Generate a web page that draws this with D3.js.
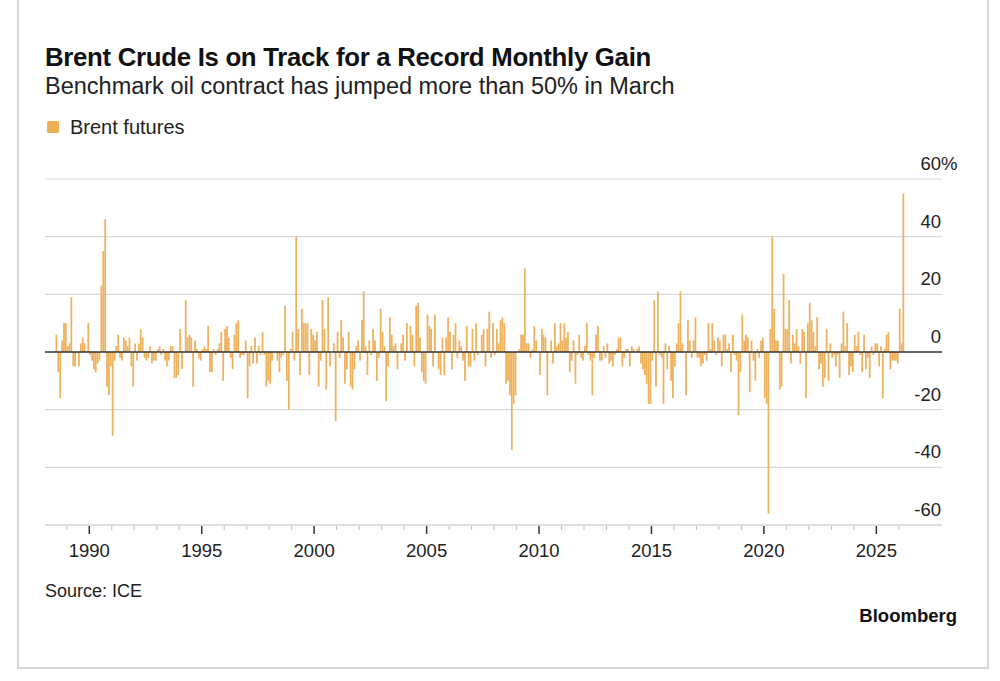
<!DOCTYPE html>
<html><head><meta charset="utf-8">
<script src="https://cdn.jsdelivr.net/npm/d3@7"></script>
<style>body{margin:0;background:#fff}svg{font-family:"Liberation Sans",Arial,sans-serif}</style>
</head><body>
<svg id="c" width="1000" height="681"></svg>
<script>
// Monthly % change of Brent futures, in four runs
const seg1Start = [1988, 6]; // Jul 1988
const seg1 = [6,-7,-16,4,10,10,
 2,3,19,-5,-5,0,-5,3,5,3,0,10,
 -1,-3,-6,-7,-4,-3,23,35,46,-12,-15,-5,
 -29,-3,2,6,-2,-3,5,4,2,5,-5,-12,
 3,-3,3,8,5,-2,-3,-2,2,-4,-3,-3,
 1,2,-1,1,-3,-5,-3,2,2,-9,-9,-8,
 8,-6,0,18,5,6,5,-12,4,1,-2,-3,
 1,2,1,9,-7,-7,1,-1,1,3,7,-10,
 8,9,5,-2,-6,6,10,11,-2,-1,-1,4,
 -16,-5,2,-4,5,-4,2,-1,7,-1,-12,-10,
 -11,-3,0,0,-3,-7];
const seg2Start = [1998, 6]; // Jul 1998
const seg2 = [-2,-1,16,-10,-20,1,
 7,-3,40,8,-8,15,10,10,10,-8,8,6,
 4,7,-12,-3,18,8,-13,19,-5,0,3,-24,
 7,-2,11,5,-11,-6,7,-12,-13,-6,2,4,
 -3,11,21,2,-8,4,-1,8,4,-10,-2,15,
 7,2,-17,-5,12,6,2,3,-6,0,3,6,
 -3,10,0,9,6,-5,16,17,5,-7,-10,-11,
 13,9,8,-5,13,0,-6,-8,5,-8,5,12,
 7,-6,6,10,-2,4,2,-3,-10,9,-5,-5,
 8,-3,10,-1,0,6,8,-5,8,14,-2,10,
 -1,8,3,11,12,10,-11,-10,-15];
const seg3Start = [2008, 9]; // Oct 2008
const seg3 = [-34,-18,-15,
 0,1,6,6,29,3,3,-2,1,9,4,0,
 -8,8,6,5,-15,0,4,-4,10,2,3,10,
 4,10,5,7,-7,-3,4,-11,-1,6,-2,-3,
 2,10,-1,-3,-15,-2,6,9,-3,-3,2,-2,
 3,-4,-3,-5,-1,1,5,5,-5,-2,1,1,
 -5,2,1,0,1,2,-4,-6,-8,-11,-18,-18,
 -3,18,-12,21,-1,-2,-18,3,-6,2,-10,-16,
 -5,3,10,21,3,0,-15,11,4,-2,4,12,
 -2,-2,-5,-4,-1,-3,10,1,10,4,-1,5,
 4,-5,6,6,1,3,-7,6,-1,-3,-22,-7];
const seg4Start = [2019, 0]; // Jan 2019
const seg4 = [13,4,6,5,-14,4,-3,-10,1,-2,4,5,
 -16,-18,-56,8,40,15,4,4,-13,-12,27,8,
 8,18,-4,6,3,8,2,-4,8,7,-16,10,
 17,11,7,2,12,-6,-4,-12,-9,8,-10,3,
 -2,-1,-5,-1,-9,3,14,2,10,-8,-5,-7,
 6,2,7,-1,-7,6,-6,-2,-9,2,-1,3,
 3,-5,2,-16,1,6,7,-6,-3,-3,-3,-4,
 15,3,55];
const yTicks = [60,40,20,0,-20,-40,-60];
const xTickYears = [1990,1995,2000,2005,2010,2015,2020,2025];

const data = [];
[[seg1Start,seg1],[seg2Start,seg2],[seg3Start,seg3],[seg4Start,seg4]].forEach(([s,vals])=>{
  vals.forEach((v,i)=>data.push({date:new Date(s[0], s[1]+i, 1), v}));
});

const svg = d3.select("#c");
svg.append("rect").attr("x",18).attr("y",-2).attr("width",970).attr("height",670)
  .attr("fill","#fff").attr("stroke","#d6d6d6").attr("stroke-width",2);

const x = d3.scaleTime().domain([new Date(1988,0,1), new Date(2027,0,1)]).range([44.3, 921.3]);
const y = d3.scaleLinear().domain([-60,60]).range([525,179]);

svg.append("text").attr("x",45).attr("y",66).attr("font-size",25.8).attr("font-weight","bold").attr("fill","#111")
  .attr("letter-spacing",-0.3).text("Brent Crude Is on Track for a Record Monthly Gain");
svg.append("text").attr("x",45).attr("y",94).attr("font-size",23.5).attr("fill","#222")
  .text("Benchmark oil contract has jumped more than 50% in March");
svg.append("rect").attr("x",47).attr("y",121).attr("width",12).attr("height",12).attr("rx",1.5).attr("fill","#eeb057");
svg.append("text").attr("x",70).attr("y",134).attr("font-size",20).attr("fill","#222").text("Brent futures");

const fs = 18.5;
const g = svg.append("g");
g.selectAll("line.grid").data(yTicks.filter(d=>d!==0)).join("line")
  .attr("x1",45).attr("x2",942).attr("y1",d=>y(d)).attr("y2",d=>y(d))
  .attr("stroke","#d9d9d9").attr("stroke-width",1.2);
g.selectAll("text.yl").data(yTicks).join("text")
  .attr("x",941).attr("y",d=>y(d)-9).attr("text-anchor","end").attr("font-size",fs).attr("fill","#222")
  .text(d=>d);
svg.append("text").attr("x",941).attr("y",y(60)-9).attr("font-size",fs).attr("fill","#222").text("%");

const monthW = x(new Date(2001,0,1)) - x(new Date(2000,0,1));
svg.append("line").attr("x1",45).attr("x2",942).attr("y1",525).attr("y2",525).attr("stroke","#d0d0d0").attr("stroke-width",1.2);
const years = d3.range(1989, 2027);
svg.selectAll("line.mt").data(years).join("line")
  .attr("x1",d=>x(new Date(d,0,1))).attr("x2",d=>x(new Date(d,0,1)))
  .attr("y1",526).attr("y2",d=>xTickYears.includes(d)?534:530)
  .attr("stroke",d=>xTickYears.includes(d)?"#333":"#bbb").attr("stroke-width",d=>xTickYears.includes(d)?1.5:1);
svg.selectAll("text.xl").data(xTickYears).join("text")
  .attr("x",d=>x(new Date(d,0,1))).attr("y",557).attr("text-anchor","middle").attr("font-size",fs).attr("fill","#222")
  .text(d=>d);

const bw = monthW/12;
svg.selectAll("rect.bar").data(data).join("rect")
  .attr("x",d=>x(d.date)).attr("width",bw*0.95)
  .attr("y",d=>y(Math.max(0,d.v))).attr("height",d=>Math.abs(y(d.v)-y(0)))
  .attr("fill","#eeb25e");

svg.append("line").attr("x1",45).attr("x2",942).attr("y1",y(0)).attr("y2",y(0)).attr("stroke","#333").attr("stroke-width",1.6);

svg.append("text").attr("x",45).attr("y",597).attr("font-size",18).attr("fill","#222").text("Source: ICE");
svg.append("text").attr("x",957).attr("y",622).attr("text-anchor","end").attr("font-size",18.5).attr("font-weight","bold").attr("fill","#111").text("Bloomberg");
</script>
</body></html>
